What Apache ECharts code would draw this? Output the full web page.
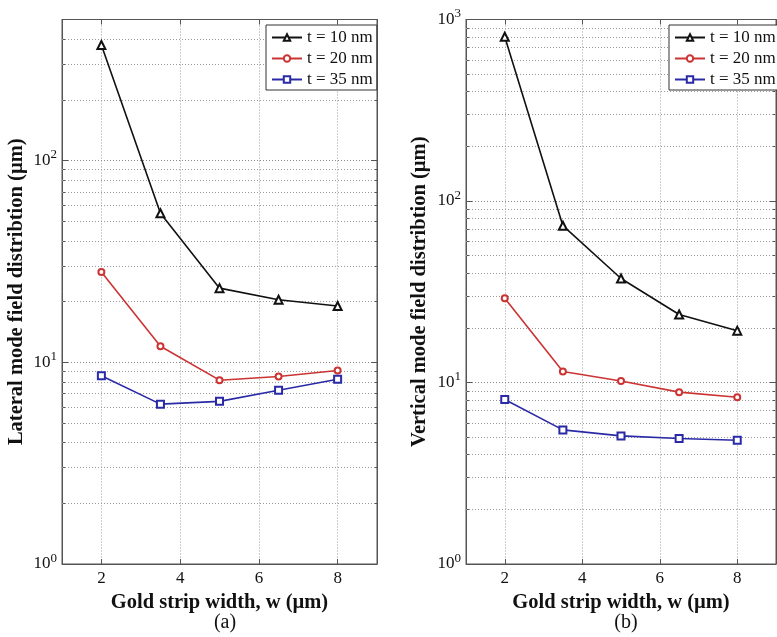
<!DOCTYPE html>
<html>
<head>
<meta charset="utf-8">
<script src="https://cdn.jsdelivr.net/npm/echarts@6/dist/echarts.min.js"></script>
<style>
html,body{margin:0;padding:0;background:#fff;}
#c{width:777px;height:637px;}
</style>
</head>
<body>
<div id="c"></div>
<script>
// ---- data ----
var widths = [2, 3.5, 5, 6.5, 8];
var seriesNames = ['t = 10 nm', 't = 20 nm', 't = 35 nm'];
var lateral10 = [374, 54.8, 23.3, 20.4, 19.0];
var lateral20 = [28.0, 12.0, 8.15, 8.5, 9.1];
var lateral35 = [8.57, 6.2, 6.4, 7.26, 8.24];
var vertical10 = [804, 73.1, 37.4, 23.7, 19.3];
var vertical20 = [29.1, 11.5, 10.2, 8.85, 8.3];
var vertical35 = [8.06, 5.48, 5.08, 4.91, 4.81];
var xTicks = [2, 4, 6, 8];
var yTicksLeft = [1, 10, 100];
var yTicksRight = [1, 10, 100, 1000];
var minorLeft = [2,3,4,5,6,7,8,9,20,30,40,50,60,70,80,90,200,300,400];
var minorRight = [2,3,4,5,6,7,8,9,20,30,40,50,60,70,80,90,200,300,400,500,600,700,800,900];
var xTitle = 'Gold strip width, w (\u00b5m)';
var yTitleLeft = 'Lateral mode field distribtion (\u00b5m)';
var yTitleRight = 'Vertical mode field distribtion (\u00b5m)';

var FONT = '"Liberation Serif", "Times New Roman", serif';
var AXC = '#555';
var GRIDC = '#9a9a9a';

function pairs(ys) { return widths.map(function (x, i) { return [x, ys[i]]; }); }

function powLabel(v) {
  var e = Math.round(Math.log10(v));
  return '{b|10}{s|' + e + '}';
}

function xAxisBottom(gi) {
  return {
    type: 'value', gridIndex: gi, min: 1, max: 9, position: 'bottom',
    axisLine: {show: true, lineStyle: {color: AXC, width: 1}},
    axisTick: {show: true, inside: true, length: 5, customValues: xTicks, lineStyle: {color: AXC}},
    axisLabel: {customValues: xTicks, color: '#111', fontFamily: FONT, fontSize: 17, margin: 6},
    splitLine: {show: true, lineStyle: {color: GRIDC, type: [1, 2], width: 1}},
    name: xTitle, nameLocation: 'middle', nameGap: 27,
    nameTextStyle: {fontFamily: FONT, fontSize: 20.5, fontWeight: 'bold', color: '#111'}
  };
}
function xAxisTop(gi) {
  return {
    type: 'value', gridIndex: gi, min: 1, max: 9, position: 'top',
    axisLine: {show: true, lineStyle: {color: AXC, width: 1}},
    axisTick: {show: true, inside: true, length: 5, customValues: xTicks, lineStyle: {color: AXC}},
    axisLabel: {show: false}, splitLine: {show: false}
  };
}
function yAxisLeft(gi, maxV, ticks, title, gap) {
  return {
    type: 'log', logBase: 10, gridIndex: gi, min: 1, max: maxV, position: 'left',
    axisLine: {show: true, lineStyle: {color: AXC, width: 1}},
    axisTick: {show: true, inside: true, length: 6, customValues: ticks, lineStyle: {color: AXC}},
    axisLabel: {
      customValues: ticks, margin: 5, formatter: powLabel,
      rich: {
        b: {fontFamily: FONT, fontSize: 17, color: '#111'},
        s: {fontFamily: FONT, fontSize: 13, color: '#111', verticalAlign: 'bottom', padding: [0, 0, 11, 0]}
      }
    },
    splitLine: {show: true, lineStyle: {color: '#888', type: [1, 2], width: 1}},
    name: title, nameLocation: 'middle', nameGap: gap, nameRotate: 90,
    nameTextStyle: {fontFamily: FONT, fontSize: 20.5, fontWeight: 'bold', color: '#111'}
  };
}
function yAxisRight(gi, maxV, ticks) {
  return {
    type: 'log', logBase: 10, gridIndex: gi, min: 1, max: maxV, position: 'right',
    axisLine: {show: true, lineStyle: {color: AXC, width: 1}},
    axisTick: {show: true, inside: true, length: 6, customValues: ticks, lineStyle: {color: AXC}},
    axisLabel: {show: false}, splitLine: {show: false}
  };
}
function yAxisMinor(gi, maxV, minors, pos) {
  return {
    type: 'log', logBase: 10, gridIndex: gi, min: 1, max: maxV, position: pos,
    axisLine: {show: false},
    axisTick: {show: true, inside: true, length: 3, customValues: minors, lineStyle: {color: AXC}},
    axisLabel: {show: false}, splitLine: {show: false}
  };
}

function dataSeries(name, xi, yi, ys, color, symbol, size) {
  return {
    type: 'line', name: name, xAxisIndex: xi, yAxisIndex: yi, data: pairs(ys),
    symbol: symbol, symbolSize: size, z: 5,
    lineStyle: {color: color, width: 1.6},
    itemStyle: {color: color, borderColor: color, borderWidth: 1.3},
    emphasis: {disabled: true}, animation: false
  };
}
function minorSeries(xi, yi, vals) {
  return {
    type: 'line', xAxisIndex: xi, yAxisIndex: yi, data: [], z: 1, silent: true, animation: false,
    markLine: {
      silent: true, symbol: ['none', 'none'], label: {show: false}, animation: false,
      lineStyle: {color: GRIDC, type: [1, 2], width: 1},
      emphasis: {disabled: true},
      data: vals.map(function (v) { return {yAxis: v}; })
    }
  };
}
function legend(left) {
  return {
    show: true, orient: 'vertical', left: left, top: 25, z: 20,
    data: seriesNames, itemWidth: 30, itemHeight: 8, itemGap: 4, itemTextGap: 1,
    padding: [4, 4, 2, 5], borderColor: '#333', borderWidth: 1, backgroundColor: '#fff',
    selectedMode: false,
    textStyle: {fontFamily: FONT, fontSize: 17, color: '#111', lineHeight: 17}
  };
}

var chart = echarts.init(document.getElementById('c'), null, {renderer: 'canvas'});
chart.setOption({
  backgroundColor: '#fff',
  animation: false,
  title: [
    {text: '(a)', left: 220, top: 608, textAlign: 'center', textStyle: {fontFamily: FONT, fontSize: 20, fontWeight: 'normal', color: '#111'}},
    {text: '(b)', left: 621, top: 608, textAlign: 'center', textStyle: {fontFamily: FONT, fontSize: 20, fontWeight: 'normal', color: '#111'}}
  ],
  legend: [legend(266), legend(669)],
  grid: [
    {left: 62, top: 19.5, width: 315, height: 544.5, show: true, borderColor: AXC, borderWidth: 1, backgroundColor: '#fff'},
    {left: 466, top: 19.5, width: 310, height: 544.5, show: true, borderColor: AXC, borderWidth: 1, backgroundColor: '#fff'}
  ],
  xAxis: [xAxisBottom(0), xAxisTop(0), xAxisBottom(1), xAxisTop(1)],
  yAxis: [
    yAxisLeft(0, 500, yTicksLeft, yTitleLeft, 35),
    yAxisRight(0, 500, yTicksLeft),
    yAxisLeft(1, 1000, yTicksRight, yTitleRight, 36),
    yAxisRight(1, 1000, yTicksRight),
    yAxisMinor(0, 500, minorLeft, 'left'),
    yAxisMinor(0, 500, minorLeft, 'right'),
    yAxisMinor(1, 1000, minorRight, 'left'),
    yAxisMinor(1, 1000, minorRight, 'right')
  ],
  series: [
    minorSeries(0, 0, minorLeft),
    minorSeries(2, 2, minorRight),
    dataSeries(seriesNames[0], 0, 0, lateral10, '#111111', 'emptyTriangle', 8),
    dataSeries(seriesNames[1], 0, 0, lateral20, '#cc3333', 'emptyCircle', 6),
    dataSeries(seriesNames[2], 0, 0, lateral35, '#2a2aa6', 'emptyRect', 7),
    dataSeries(seriesNames[0], 2, 2, vertical10, '#111111', 'emptyTriangle', 8),
    dataSeries(seriesNames[1], 2, 2, vertical20, '#cc3333', 'emptyCircle', 6),
    dataSeries(seriesNames[2], 2, 2, vertical35, '#2a2aa6', 'emptyRect', 7)
  ]
});
</script>
</body>
</html>
